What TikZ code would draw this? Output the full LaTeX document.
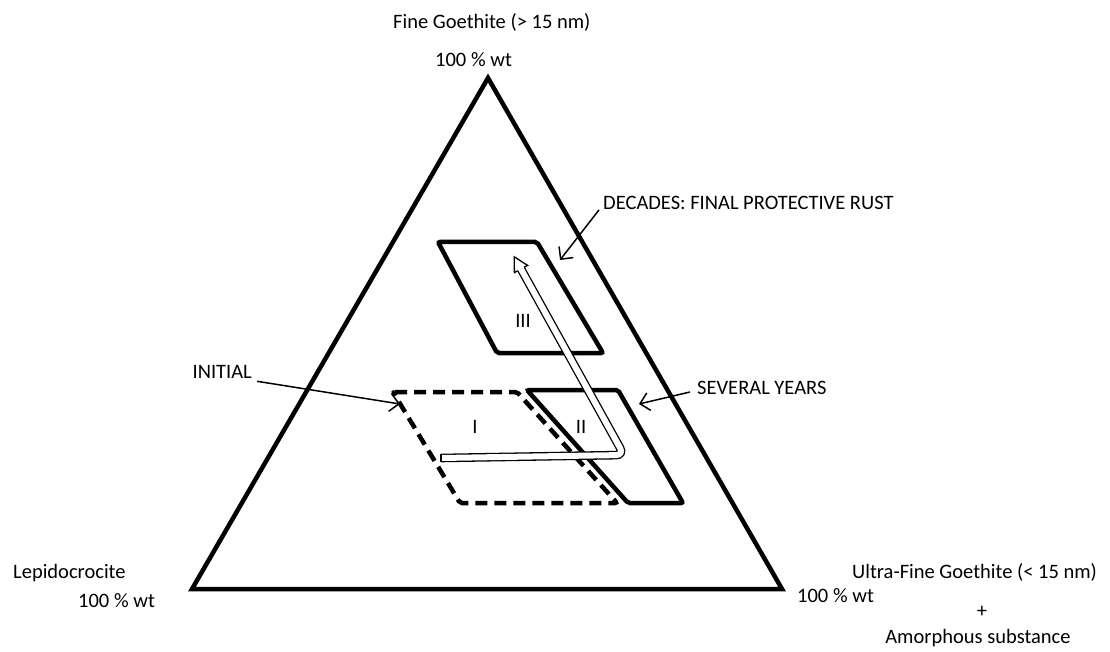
\documentclass[tikz,border=0pt]{standalone}
\usepackage{fontspec}
\setmainfont{Carlito}
\usetikzlibrary{positioning, arrows.meta}

\begin{document}
\begin{tikzpicture}[
    x=1pt, y=-1pt,
    every node/.style={font=\fontsize{20.5}{24}\selectfont, inner sep=0pt},
    tri/.style={line width=4.5pt},
    zone/.style={line width=4.5pt, rounded corners=2pt},
    initzone/.style={zone, dash pattern=on 12pt off 7pt},
    note/.style={-{Straight Barb[length=9pt, width=18pt, line width=1.5pt]}, line width=1.5pt},
    trend/.style={double distance=6pt, line width=1.3pt, rounded corners=8pt},
    trendhead/.style={line width=1.3pt, fill=white, line join=miter},
]
    \useasboundingbox (0,0) rectangle (1110,652);

    % ternary triangle
    \coordinate (top) at (488,78);
    \coordinate (lft) at (192,589);
    \coordinate (rgt) at (782,589);
    \draw[tri] (top) -- (lft) -- (rgt) -- cycle;

    % corner labels
    \node[anchor=base west] (fine) at (393,29) {Fine Goethite (> 15 nm)};
    \node[anchor=base west] (finewt) at (435,67) {100 \% wt};
    \node[anchor=base west] (lepi) at (13,578) {Lepidocrocite};
    \node[anchor=base west] (lepiwt) at (78,607) {100 \% wt};
    \node[anchor=base west] (ultra) at (852,578) {Ultra-Fine Goethite (< 15 nm)};
    \node[anchor=base west] (ultrawt) at (797,602) {100 \% wt};
    \node (plus) at (982,612) {+};
    \node[anchor=base] (amorph) at (978,643) {Amorphous substance};

    % zones
    \draw[initzone] (393,392) -- (517,392) -- (617,503) -- (460,503) -- cycle;
    \draw[zone] (527,390) -- (618,390) -- (683,503) -- (628,503) -- cycle;
    \draw[zone] (438,242) -- (537,242) -- (603,353) -- (497,353) -- cycle;
    \node (zi) at (475,427) {I};
    \node (zii) at (581,427) {II};
    \node (ziii) at (523,321) {III};

    % evolution arrow
    \coordinate (tstart) at (441,458);
    \coordinate (tbend) at (624,455);
    \coordinate (hbase) at (521,269);
    \draw[trend] (tstart) -- (tbend) -- (hbase);
    \draw[line width=1.3pt, line cap=rect] ([yshift=3.65pt]tstart) -- ([yshift=-3.65pt]tstart);
    \draw[trendhead] (524.2,267.2) -- (527.6,265.4) -- (514.2,256.8) -- (514.4,272.6) -- (517.8,270.8);

    % stage notes
    \node[anchor=west] (decades) at (603,203) {DECADES: FINAL PROTECTIVE RUST};
    \node[anchor=west] (several) at (697,388) {SEVERAL YEARS};
    \node[anchor=east] (initial) at (252,371.5) {INITIAL};
    \coordinate (decadestip) at (560,260);
    \coordinate (severaltip) at (639,404);
    \coordinate (initialtip) at (400,404);
    \draw[note] ([xshift=-4pt]decades.south west) -- (decadestip);
    \draw[note] ([xshift=-7pt, yshift=-4pt]several.west) -- (severaltip);
    \draw[note] ([xshift=5pt, yshift=-3pt]initial.south east) -- (initialtip);
\end{tikzpicture}
\end{document}
